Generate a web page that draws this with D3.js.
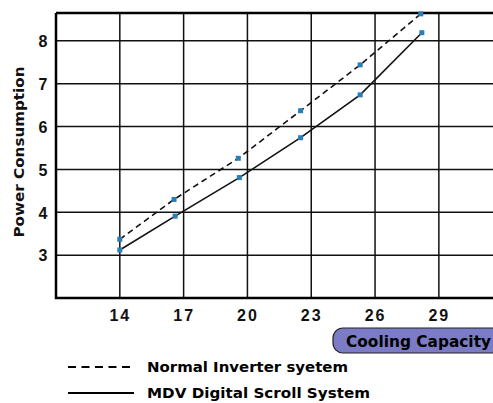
<!DOCTYPE html>
<html><head><meta charset="utf-8">
<script src="https://cdn.jsdelivr.net/npm/d3@7"></script>
<style>
body{margin:0;background:#fff;}
svg{display:block;font-family:"Liberation Sans",Arial,sans-serif;font-weight:bold;}
.w{font-family:"DejaVu Sans",Verdana,sans-serif;font-weight:bold;}
</style></head><body>
<svg id="c" width="493" height="403"></svg>
<script>
const xTicks = [14, 17, 20, 23, 26, 29];
const yTicks = [3, 4, 5, 6, 7, 8];
const normalX = [14, 16.55, 19.57, 22.5, 25.3, 28.15];
const normalY = [3.37, 4.3, 5.26, 6.37, 7.44, 8.63];
const mdvX = [14, 16.6, 19.62, 22.5, 25.3, 28.2];
const mdvY = [3.12, 3.91, 4.81, 5.74, 6.74, 8.19];
const seriesNames = ["Normal Inverter syetem", "MDV Digital Scroll System"];
const xTitle = "Cooling Capacity";
const yTitle = "Power Consumption";

const svg = d3.select("#c");
const L = 56, T = 13, B = 298;
const x = d3.scaleLinear().domain([11, 32]).range([L, L + 21 * 21.27]);
const y = d3.scaleLinear().domain([2, 8.65]).range([B, T]);

// grid
const g = svg.append("g");
g.selectAll(".vg").data(xTicks).join("line")
  .attr("x1", d => x(d)).attr("x2", d => x(d)).attr("y1", T).attr("y2", B)
  .attr("stroke", "#111").attr("stroke-width", 1.5);
g.selectAll(".hg").data(yTicks).join("line")
  .attr("x1", L).attr("x2", 493).attr("y1", d => y(d)).attr("y2", d => y(d))
  .attr("stroke", "#111").attr("stroke-width", 1.5);
// frame
g.append("path").attr("d", `M${L},${T}H495M${L},${T}V${B}H495`)
  .attr("fill", "none").attr("stroke", "#000").attr("stroke-width", 2.5);

// axes labels
const xAxis = d3.axisBottom(x).tickValues(xTicks).tickFormat(d3.format("d")).tickSize(0).tickPadding(0);
const xa = svg.append("g").attr("transform", `translate(0,${B})`).call(xAxis);
xa.select(".domain").remove();
xa.selectAll("text").attr("dy", 0).attr("y", 23).attr("font-size", 16)
  .attr("font-family", "Liberation Sans, Arial, sans-serif").attr("font-weight", "bold")
  .attr("letter-spacing", 2).attr("fill", "#111");

const yAxis = d3.axisLeft(y).tickValues(yTicks).tickFormat(d3.format("d")).tickSize(0).tickPadding(0);
const ya = svg.append("g").attr("transform", `translate(${L},0)`).call(yAxis);
ya.select(".domain").remove();
ya.selectAll("text").attr("x", -13).attr("dy", "0.36em").attr("font-size", 16)
  .attr("font-family", "Liberation Sans, Arial, sans-serif").attr("font-weight", "bold")
  .attr("text-anchor", "middle").attr("fill", "#111");

svg.append("text").attr("class", "w").attr("transform", "translate(24,152) rotate(-90)")
  .attr("text-anchor", "middle").attr("font-size", 14.5).attr("fill", "#111")
  .attr("textLength", 171).attr("lengthAdjust", "spacingAndGlyphs").text(yTitle);

// lines
const line = d3.line().x(d => x(d[0])).y(d => y(d[1]));
const nData = normalX.map((v, i) => [v, normalY[i]]);
const mData = mdvX.map((v, i) => [v, mdvY[i]]);
svg.append("path").attr("d", line(nData)).attr("fill", "none").attr("stroke", "#111")
  .attr("stroke-width", 1.6).attr("stroke-dasharray", "6,4");
svg.append("path").attr("d", line(mData)).attr("fill", "none").attr("stroke", "#111")
  .attr("stroke-width", 1.6);
[nData, mData].forEach(data => {
  svg.append("g").selectAll("rect").data(data).join("rect")
    .attr("x", d => x(d[0]) - 2.5).attr("y", d => y(d[1]) - 2.5)
    .attr("width", 5).attr("height", 5).attr("fill", "#2a7db5");
});

// x title pill
svg.append("rect").attr("x", 333).attr("y", 328).attr("width", 180).attr("height", 25)
  .attr("rx", 10).attr("fill", "#7b7bc6").attr("stroke", "#222").attr("stroke-width", 1.2);
svg.append("text").attr("class", "w").attr("x", 346).attr("y", 346.5).attr("font-size", 15)
  .attr("fill", "#000").attr("textLength", 145).attr("lengthAdjust", "spacingAndGlyphs").text(xTitle);

// legend
svg.append("line").attr("x1", 68).attr("x2", 133).attr("y1", 367).attr("y2", 367)
  .attr("stroke", "#000").attr("stroke-width", 2).attr("stroke-dasharray", "8,5.5");
svg.append("line").attr("x1", 68).attr("x2", 134).attr("y1", 393).attr("y2", 393)
  .attr("stroke", "#000").attr("stroke-width", 2.2);
svg.append("text").attr("class", "w").attr("x", 147).attr("y", 372).attr("font-size", 14)
  .attr("textLength", 201).attr("lengthAdjust", "spacingAndGlyphs")
  .attr("fill", "#000").text(seriesNames[0]);
svg.append("text").attr("class", "w").attr("x", 147).attr("y", 398).attr("font-size", 14)
  .attr("textLength", 223).attr("lengthAdjust", "spacingAndGlyphs")
  .attr("fill", "#000").text(seriesNames[1]);
</script>
</body></html>
